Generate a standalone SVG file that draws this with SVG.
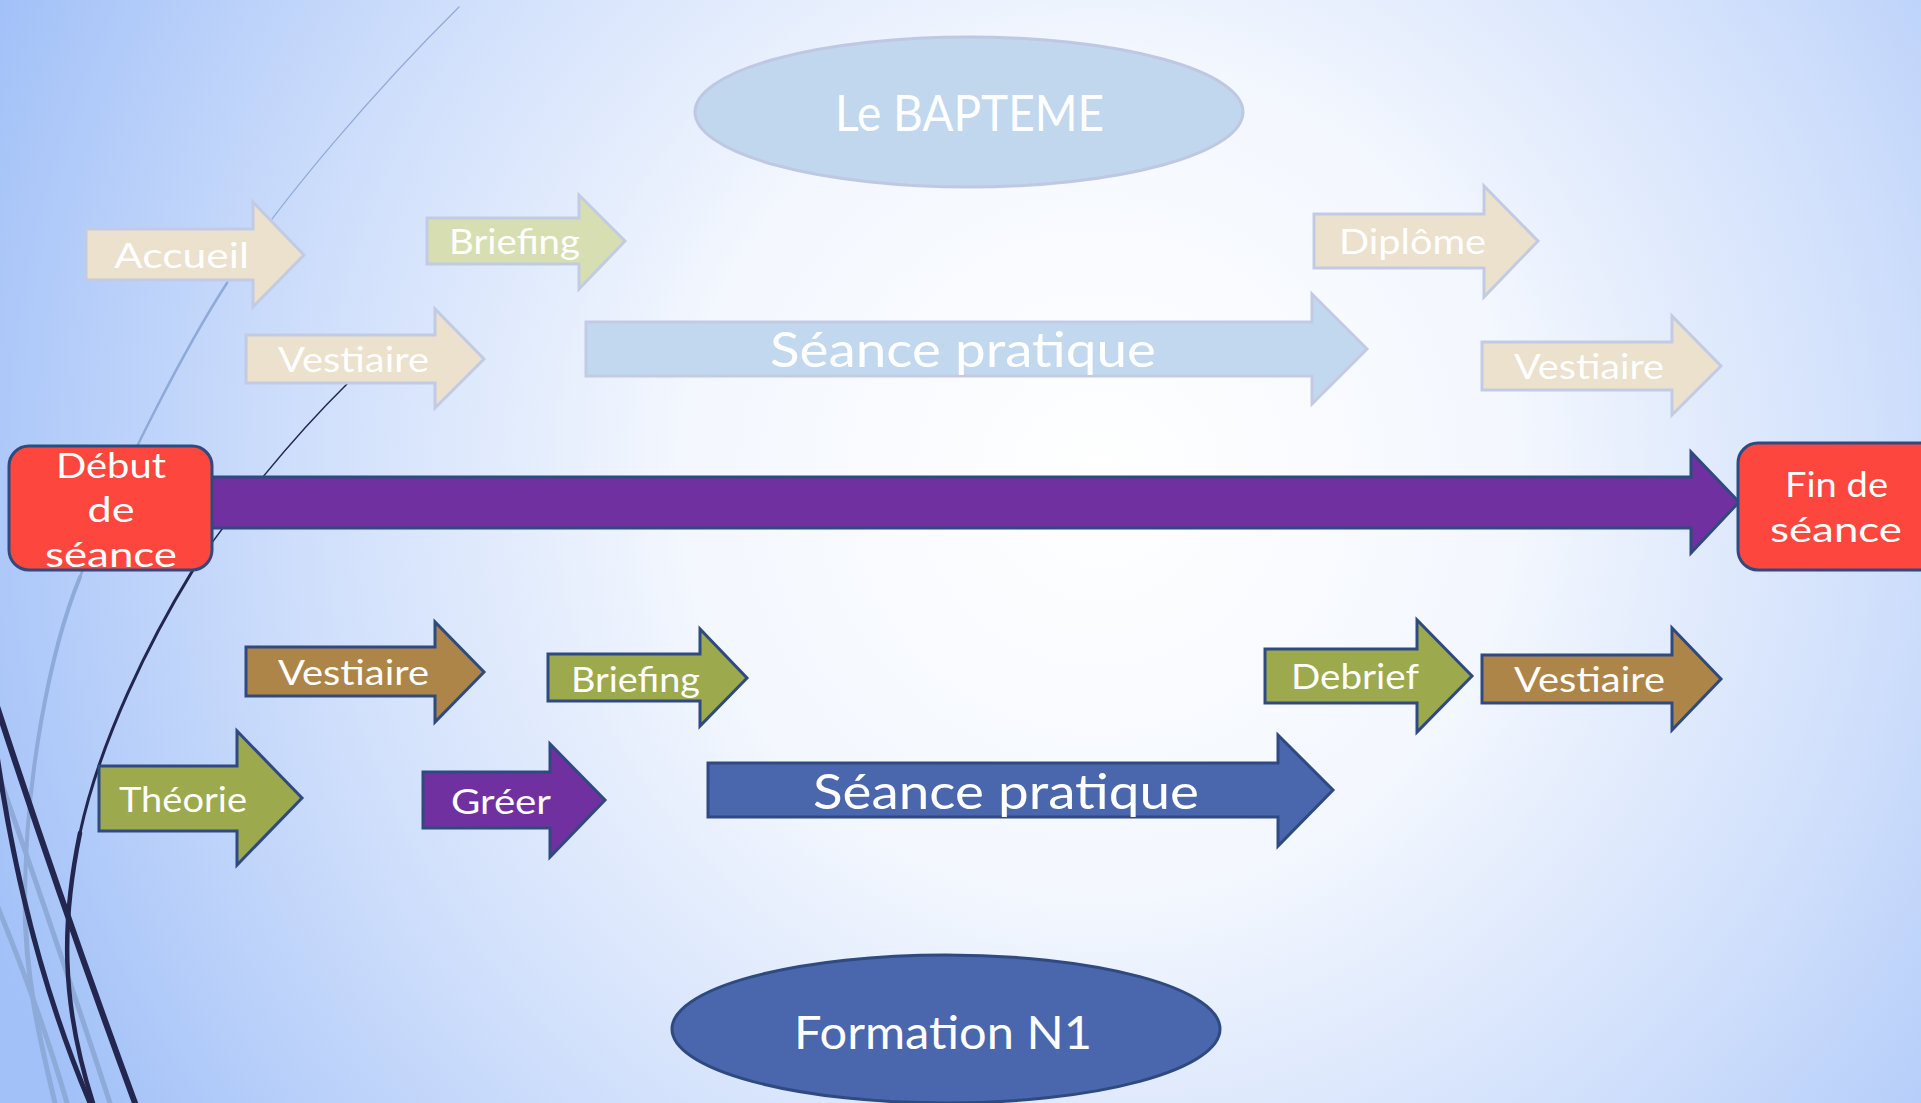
<svg xmlns="http://www.w3.org/2000/svg" width="1921" height="1103" viewBox="0 0 1921 1103">
<defs>
<radialGradient id="bg" gradientUnits="userSpaceOnUse" cx="1100" cy="480" r="1200">
<stop offset="0" stop-color="#ffffff"/>
<stop offset="0.35" stop-color="#f3f7fe"/>
<stop offset="0.7" stop-color="#cbdcfb"/>
<stop offset="1" stop-color="#a2c1f8"/>
</radialGradient>
<style>
.t{font-family:Lato,"Liberation Sans","DejaVu Sans",sans-serif;font-weight:400;fill:#ffffff;text-anchor:middle}
.s35{font-size:35px}
.s48{font-size:48px}
.faded{stroke:#c2cbe3;stroke-width:3;stroke-linejoin:miter}
.solid{stroke:#2f4a80;stroke-width:3;stroke-linejoin:miter}
.beige{fill:#ebe1cd}
.pgreen{fill:#d7dfb2}
.pblue{fill:#c2d8ee}
.brown{fill:#ae8548}
.green{fill:#9ca94c}
.purple{fill:#7030a0}
.blue{fill:#4a66ac}
.red{fill:#fd463d}
.dk{fill:none;stroke:#23264f;stroke-linecap:round}
.lt{fill:none;stroke:#8eaad9;stroke-linecap:round}
</style>
</defs>
<rect x="0" y="0" width="1921" height="1103" fill="url(#bg)"/>

<g id="decor">
<path class="lt" d="M459,7 C380,85 280,200 227,283" stroke="#a9bde2" stroke-width="1.2"/>
<path class="lt" d="M227,283 C190,340 120,470 80,577" stroke="#a2b8e0" stroke-width="2.5"/>
<path class="lt" d="M80,577 C50,650 25,780 25,900" stroke-width="4"/>
<path class="lt" d="M25,900 C25,980 40,1040 55,1103" stroke-width="5"/>
<path class="lt" d="M-3,770 Q60,950 110,1103" stroke-width="5"/>
<path class="lt" d="M-3,905 Q40,1010 67,1103" stroke-width="5"/>
<path class="dk" d="M347,384 C290,440 230,515 193,570" stroke-width="1.5"/>
<path class="dk" d="M193,570 C150,640 100,740 80,833" stroke-width="3"/>
<path class="dk" d="M80,833 C62,920 60,1000 93,1103" stroke-width="4.5"/>
<path class="dk" d="M-5,700 Q60,900 135,1103" stroke-width="6"/>
<path class="dk" d="M-3,755 Q25,950 90,1103" stroke-width="5"/>
</g>

<g id="connectors">
<polygon class="purple solid" points="200,477 1691,477 1691,452 1739,502 1691,553 1691,528 200,528"/>
</g>

<g id="bapteme">
<ellipse cx="969" cy="112" rx="274" ry="75" fill="#c1d7ee" stroke="#bec8e2" stroke-width="3"/>
<text class="t" x="969.5" y="131" font-size="50" font-weight="300" textLength="269" lengthAdjust="spacingAndGlyphs">Le BAPTEME</text>
</g>

<g id="accueil">
<polygon class="beige faded" points="86,229 253,229 253,202 304,255 253,307 253,280 86,280"/>
<text class="t s35" x="181.5" y="268" textLength="135" lengthAdjust="spacingAndGlyphs">Accueil</text>
</g>
<g id="briefing-top">
<polygon class="pgreen faded" points="427,218 579,218 579,195 625,241 579,289 579,264 427,264"/>
<text class="t s35" x="514.5" y="254" textLength="131" lengthAdjust="spacingAndGlyphs">Briefing</text>
</g>
<g id="vestiaire-top-left">
<polygon class="beige faded" points="246,335 435,335 435,309 484,359 435,408 435,383 246,383"/>
<text class="t s35" x="353.5" y="372" textLength="151" lengthAdjust="spacingAndGlyphs">Vestiaire</text>
</g>
<g id="seance-top">
<polygon class="pblue faded" points="586,322 1312,322 1312,294 1367,349 1312,404 1312,376 586,376"/>
<text class="t s48" x="963" y="367" font-weight="300" textLength="386" lengthAdjust="spacingAndGlyphs">Séance pratique</text>
</g>
<g id="diplome">
<polygon class="beige faded" points="1314,214 1484,214 1484,186 1538,241 1484,297 1484,268 1314,268"/>
<text class="t s35" x="1412.5" y="254" textLength="147" lengthAdjust="spacingAndGlyphs">Diplôme</text>
</g>
<g id="vestiaire-top-right">
<polygon class="beige faded" points="1482,342 1672,342 1672,316 1721,366 1672,415 1672,390 1482,390"/>
<text class="t s35" x="1589" y="379" textLength="150" lengthAdjust="spacingAndGlyphs">Vestiaire</text>
</g>

<g id="debut">
<rect class="red solid" x="9" y="446" width="203" height="124" rx="20" ry="20"/>
<text class="t s35" x="111" y="478" textLength="110" lengthAdjust="spacingAndGlyphs">Début</text>
<text class="t s35" x="111" y="522" textLength="47" lengthAdjust="spacingAndGlyphs">de</text>
<text class="t s35" x="111" y="567" textLength="132" lengthAdjust="spacingAndGlyphs">séance</text>
</g>
<g id="fin">
<rect class="red solid" x="1738" y="443" width="205" height="127" rx="20" ry="20"/>
<text class="t s35" x="1836.5" y="497" textLength="103" lengthAdjust="spacingAndGlyphs">Fin de</text>
<text class="t s35" x="1836" y="542" textLength="132" lengthAdjust="spacingAndGlyphs">séance</text>
</g>

<g id="vestiaire-bottom-left">
<polygon class="brown solid" points="246,647 435,647 435,622 484,672 435,722 435,696 246,696"/>
<text class="t s35" x="353.5" y="685" textLength="151" lengthAdjust="spacingAndGlyphs">Vestiaire</text>
</g>
<g id="briefing-bottom">
<polygon class="green solid" points="548,654 700,654 700,629 747,678 700,726 700,701 548,701"/>
<text class="t s35" x="635.5" y="692" textLength="129" lengthAdjust="spacingAndGlyphs">Briefing</text>
</g>
<g id="theorie">
<polygon class="green solid" points="99,766 237,766 237,731 302,798 237,865 237,831 99,831"/>
<text class="t s35" x="183" y="812" textLength="128" lengthAdjust="spacingAndGlyphs">Théorie</text>
</g>
<g id="greer">
<polygon class="purple solid" points="423,772 550,772 550,744 605,800 550,857 550,828 423,828"/>
<text class="t s35" x="501" y="814" textLength="100" lengthAdjust="spacingAndGlyphs">Gréer</text>
</g>
<g id="seance-bottom">
<polygon class="blue solid" points="708,763 1278,763 1278,735 1333,790 1278,846 1278,817 708,817"/>
<text class="t s48" x="1006" y="809" textLength="386" lengthAdjust="spacingAndGlyphs">Séance pratique</text>
</g>
<g id="debrief">
<polygon class="green solid" points="1265,649 1417,649 1417,620 1472,676 1417,732 1417,703 1265,703"/>
<text class="t s35" x="1355" y="689" textLength="128" lengthAdjust="spacingAndGlyphs">Debrief</text>
</g>
<g id="vestiaire-bottom-right">
<polygon class="brown solid" points="1482,655 1672,655 1672,628 1721,679 1672,730 1672,703 1482,703"/>
<text class="t s35" x="1589.5" y="692" textLength="151" lengthAdjust="spacingAndGlyphs">Vestiaire</text>
</g>

<g id="formation">
<ellipse class="blue solid" cx="946" cy="1029" rx="274" ry="74"/>
<text class="t" x="943" y="1049" font-size="46" textLength="298" lengthAdjust="spacingAndGlyphs">Formation N1</text>
</g>
</svg>
